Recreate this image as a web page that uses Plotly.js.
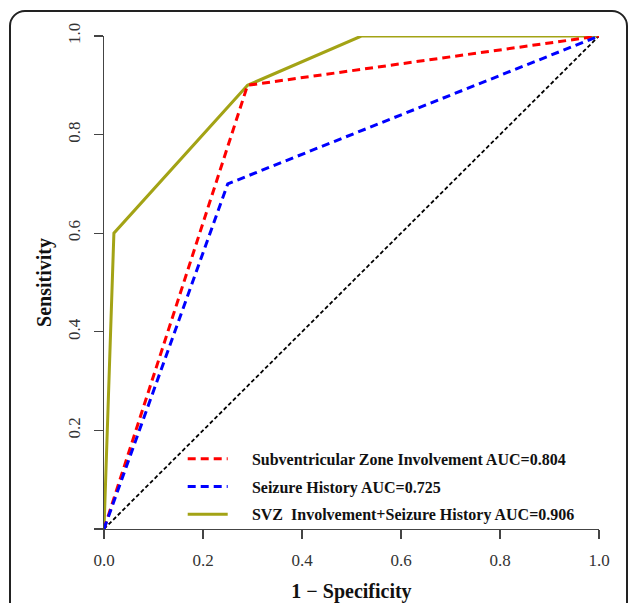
<!DOCTYPE html>
<html><head><meta charset="utf-8">
<script src="https://cdn.plot.ly/plotly-3.0.1.min.js"></script>
<style>
html,body{margin:0;padding:0;background:#fff;}
#wrap{position:relative;width:630px;height:603px;overflow:hidden;}
#chart{width:630px;height:603px;}
#frame{position:absolute;left:9px;top:10px;width:619px;height:620px;border:2px solid #222;border-radius:16px;pointer-events:none;box-sizing:border-box;}
</style></head>
<body><div id="wrap"><div id="chart"></div><div id="frame"></div></div>
<script>
const svzX = [0, 0.29, 1];
const svzY = [0, 0.9, 1];
const seizX = [0, 0.25, 1];
const seizY = [0, 0.7, 1];
const combX = [0, 0.02, 0.29, 0.52, 1];
const combY = [0, 0.6, 0.9, 1.0, 1];
const refX = [0, 1];
const refY = [0, 1];
const names = ["Subventricular Zone Involvement AUC=0.804", "Seizure History AUC=0.725", "SVZ  Involvement+Seizure History AUC=0.906"];
const tickVals = [0, 0.2, 0.4, 0.6, 0.8, 1.0];
const xTickText = ["0.0", "0.2", "0.4", "0.6", "0.8", "1.0"];
const yTickText = ["", "0.2", "0.4", "0.6", "0.8", "1.0"];

const serif = "Liberation Serif, Times New Roman, serif";
const pad = "\u2002\u2002\u2009";
const traces = [
  {x: combX, y: combY, mode: "lines", name: pad + names[2], legendrank: 3, legendgroup: "c",
   line: {color: "#a3a315", width: 3}},
  {x: refX, y: refY, mode: "lines", showlegend: false, hoverinfo: "skip",
   line: {color: "#000", width: 1.8, dash: "4px,2.5px"}},
  {x: svzX, y: svzY, mode: "lines", name: pad + names[0], legendrank: 1, legendgroup: "a",
   line: {color: "#ff0000", width: 3, dash: "8px,5px"}},
  {x: seizX, y: seizY, mode: "lines", name: pad + names[1], legendrank: 2, legendgroup: "b",
   line: {color: "#0000ff", width: 3, dash: "8px,5px"}}
];
const layout = {
  width: 630, height: 603,
  margin: {l: 104, r: 31, t: 36, b: 74},
  paper_bgcolor: "#fff", plot_bgcolor: "#fff",
  showlegend: true,
  legend: {x: 0.159, y: 0.177, xanchor: "left", yanchor: "top", bgcolor: "rgba(0,0,0,0)",
    font: {family: serif, size: 16, color: "#111", weight: "bold"},
    traceorder: "grouped", tracegroupgap: 4, itemwidth: 40},
  xaxis: {range: [0, 1], tickvals: tickVals, ticktext: xTickText, showgrid: false, zeroline: false,
    showline: true, linecolor: "#444", linewidth: 1.3, ticks: "outside", ticklen: 9, tickcolor: "#444", tickwidth: 1.3,
    ticklabelstandoff: 6,
    tickfont: {family: serif, size: 17, color: "#333"},
    title: {text: "1 − Specificity", font: {family: serif, size: 20, color: "#111", weight: "bold"}, standoff: 16}},
  yaxis: {range: [0, 1], tickvals: tickVals, ticktext: yTickText, showgrid: false, zeroline: false,
    showline: true, linecolor: "#444", linewidth: 1.3, ticks: "outside", ticklen: 9, tickcolor: "#444", tickwidth: 1.3,
    tickangle: -90, ticklabelstandoff: 7,
    tickfont: {family: serif, size: 17, color: "#333"},
    title: {text: "Sensitivity", font: {family: serif, size: 20, color: "#111", weight: "bold"}, standoff: 8}}
};
Plotly.newPlot("chart", traces, layout, {displayModeBar: false, staticPlot: true});
</script></body></html>
